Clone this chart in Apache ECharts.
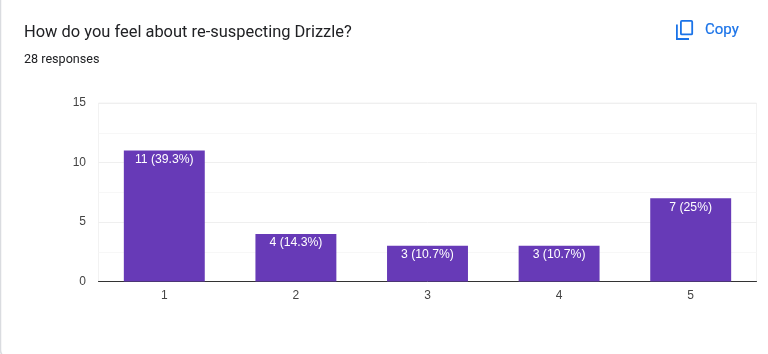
<!DOCTYPE html>
<html>
<head>
<meta charset="utf-8">
<style>
  html, body { margin: 0; padding: 0; background: #fff; }
  #main { width: 768px; height: 354px; }
</style>
<script src="https://cdn.jsdelivr.net/npm/echarts@6/dist/echarts.min.js"></script>
</head>
<body>
<div id="main"></div>
<script>
const questionText = 'How do you feel about re-suspecting Drizzle?';
const responsesText = '28 responses';
const categories = ['1', '2', '3', '4', '5'];
const counts = [11, 4, 3, 3, 7];
const percentLabels = ['39.3%', '14.3%', '10.7%', '10.7%', '25%'];
const yTicks = { min: 0, max: 15, interval: 5 };

const chart = echarts.init(document.getElementById('main'), null, { renderer: 'canvas' });

chart.setOption({
  animation: false,
  backgroundColor: '#fff',
  textStyle: { fontFamily: 'Roboto' },
  title: [
    { text: questionText, left: 24, top: 23, padding: 0,
      textStyle: { fontFamily: 'Roboto', fontSize: 16.45, fontWeight: 400, color: '#202124', lineHeight: 20 } },
    { text: responsesText, left: 24, top: 53, padding: 0,
      textStyle: { fontFamily: 'Roboto', fontSize: 12.6, fontWeight: 400, color: '#202124', lineHeight: 14 } }
  ],
  grid: { left: 98.5, right: 11.5, top: 103, bottom: 72.5, show: true, borderColor: '#f2f2f2', borderWidth: 1 },
  xAxis: {
    type: 'category',
    data: categories,
    axisTick: { show: false },
    axisLine: { lineStyle: { color: '#333', width: 1 } },
    axisLabel: { fontFamily: 'Liberation Sans', fontSize: 12, color: '#444', margin: 8.5 }
  },
  yAxis: {
    type: 'value',
    min: yTicks.min,
    max: yTicks.max,
    interval: yTicks.interval,
    minorTick: { show: false, splitNumber: 2 },
    axisLine: { show: false },
    axisTick: { show: false },
    axisLabel: { fontFamily: 'Liberation Sans', fontSize: 12, color: '#444', margin: 12.5, padding: [2, 0, 0, 0] },
    splitLine: { lineStyle: { color: '#efefef', width: 1 } },
    minorSplitLine: { show: true, lineStyle: { color: '#f7f7f7', width: 1 } }
  },
  series: [{
    type: 'bar',
    data: counts,
    barWidth: '61.5%',
    itemStyle: { color: '#673ab7' },
    label: {
      show: true,
      position: 'insideTop',
      distance: 3,
      fontFamily: 'Liberation Sans',
      fontSize: 12.2,
      color: '#fff',
      formatter: p => counts[p.dataIndex] + ' (' + percentLabels[p.dataIndex] + ')'
    }
  }],
  graphic: [
    // card edge, only the left side falls inside the crop
    { type: 'rect', silent: true, z: 100,
      shape: { x: 0.5, y: -20, width: 800, height: 378, r: 8 },
      style: { fill: 'none', stroke: '#dadce0', lineWidth: 1.5 } },
    // copy icon
    { type: 'rect', silent: true, shape: { x: 680.9, y: 20.9, width: 11.3, height: 13.5, r: 1 },
      style: { fill: 'none', stroke: '#1a73e8', lineWidth: 1.8 } },
    { type: 'polyline', silent: true, shape: { points: [[676.9, 24.5], [676.9, 39], [689, 39]] },
      style: { fill: 'none', stroke: '#1a73e8', lineWidth: 1.8 } },
    { type: 'text', silent: true, x: 705, y: 30.5,
      style: { text: 'Copy', fontFamily: 'Roboto', fontSize: 15, fontWeight: 400, fill: '#1a73e8', stroke: '#1a73e8', lineWidth: 0.2, verticalAlign: 'middle' } }
  ]
});
</script>
</body>
</html>
